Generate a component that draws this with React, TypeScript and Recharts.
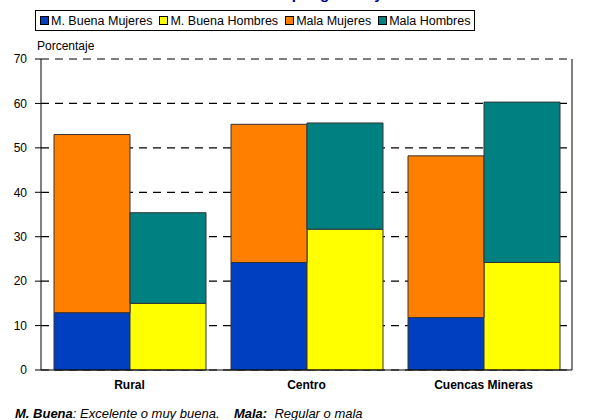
import React from 'react';
import { BarChart, Bar, XAxis, YAxis, CartesianGrid, Legend } from 'recharts';

// habitats on the x axis
const habitats = ['Rural', 'Centro', 'Cuencas Mineras'];

// percentages (segments, stacked)
const buenaMujeres = [12.9, 24.2, 11.8];
const buenaHombres = [15.0, 31.7, 24.2];
const malaMujeres = [40.1, 31.1, 36.4];
const malaHombres = [20.4, 23.9, 36.1];

const yTicks = [0, 10, 20, 30, 40, 50, 60, 70];

const series = [
  { key: 'buenaMujeres', name: 'M. Buena Mujeres', color: '#0040C0', stack: 'mujeres' },
  { key: 'buenaHombres', name: 'M. Buena Hombres', color: '#FFFF00', stack: 'hombres' },
  { key: 'malaMujeres', name: 'Mala Mujeres', color: '#FF8000', stack: 'mujeres' },
  { key: 'malaHombres', name: 'Mala Hombres', color: '#008080', stack: 'hombres' },
];

const data = habitats.map((h, i) => ({
  habitat: h,
  buenaMujeres: buenaMujeres[i],
  buenaHombres: buenaHombres[i],
  malaMujeres: malaMujeres[i],
  malaHombres: malaHombres[i],
}));

const font = '"Liberation Sans", Arial, sans-serif';

// legend keeps the series order, not recharts' sorted payload
const LegendBox = () => (
  <div
    style={{
      border: '1px solid #000',
      height: 21,
      display: 'flex',
      alignItems: 'center',
      paddingLeft: 4,
      fontFamily: font,
      fontSize: 12.5,
      color: '#000',
      boxSizing: 'border-box',
      whiteSpace: 'nowrap',
    }}
  >
    {series.map((s) => (
      <div key={s.key} style={{ display: 'flex', alignItems: 'center', marginRight: 7 }}>
        <span
          style={{
            display: 'inline-block',
            width: 7,
            height: 7,
            background: s.color,
            border: '1px solid #000',
            marginRight: 2,
          }}
        />
        <span>{s.name}</span>
      </div>
    ))}
  </div>
);

export default function App() {
  return (
    <div style={{ position: 'absolute', left: 0, top: 0, width: 598, height: 420, background: '#fff', fontFamily: font }}>
      <div
        style={{
          position: 'absolute',
          left: 25,
          top: -15,
          fontSize: 15,
          fontWeight: 'bold',
          color: '#000090',
          whiteSpace: 'nowrap',
        }}
      >
        Valoración de la salud de los adultos por género y hábitat
      </div>
      <div style={{ position: 'absolute', left: 37, top: 39, fontSize: 12, color: '#000' }}>Porcentaje</div>
      <BarChart
        width={598}
        height={420}
        data={data}
        margin={{ top: 59, right: 0, bottom: 20, left: 0 }}
        barCategoryGap={13}
        barGap={0}
      >
        <CartesianGrid yAxisId="left" vertical={false} stroke="#000" strokeDasharray="8 6" strokeWidth={1.2} />
        <XAxis
          dataKey="habitat"
          height={30}
          axisLine={{ stroke: '#000' }}
          tickLine={false}
          tickSize={6}
          tickMargin={4}
          tick={{ fill: '#000', fontSize: 12, fontWeight: 'bold', fontFamily: font }}
        />
        <YAxis
          yAxisId="left"
          width={41}
          domain={[0, 70]}
          ticks={yTicks}
          interval={0}
          axisLine={{ stroke: '#000' }}
          tickLine={{ stroke: '#000' }}
          tickSize={6}
          tickMargin={8}
          tick={{ fill: '#000', fontSize: 12, fontFamily: font }}
        />
        <YAxis
          yAxisId="right"
          orientation="right"
          width={26}
          domain={[0, 70]}
          ticks={yTicks}
          interval={0}
          axisLine={{ stroke: '#000' }}
          tickLine={{ stroke: '#000' }}
          tickSize={6}
          tickMargin={3}
          tick={{ fill: '#000', fontSize: 12, fontFamily: font, textAnchor: 'start' }}
        />
        <Legend
          layout="horizontal"
          verticalAlign="middle"
          align="center"
          content={<LegendBox />}
          wrapperStyle={{ position: 'absolute', top: 10, left: 35, width: 440, height: 21 }}
        />
        {series.map((s) => (
          <Bar
            key={s.key}
            yAxisId="left"
            dataKey={s.key}
            name={s.name}
            stackId={s.stack}
            fill={s.color}
            stroke="#333"
            strokeWidth={1}
            isAnimationActive={false}
          />
        ))}
      </BarChart>
      <div style={{ position: 'absolute', left: 15, top: 406, fontSize: 13, lineHeight: '15px', fontStyle: 'italic', color: '#000', whiteSpace: 'pre' }}>
        <b>M. Buena</b>: Excelente o muy buena.    <b>Mala:</b>  Regular o mala
      </div>
    </div>
  );
}
